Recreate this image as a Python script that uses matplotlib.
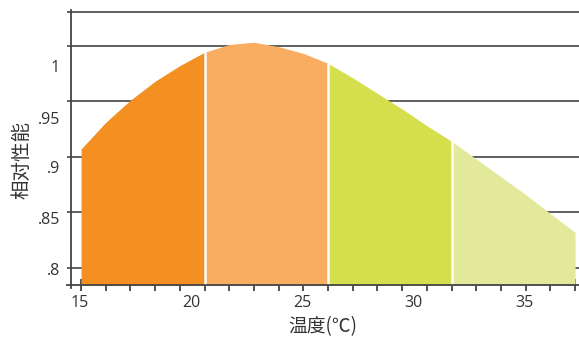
import matplotlib.pyplot as plt
import numpy as np

plt.rcParams['font.family'] = ['Open Sans', 'Noto Sans CJK SC', 'DejaVu Sans']

# curve (x in tick units, y in grid-line units)
temps = np.array([15, 16, 17, 18, 19, 20, 21, 22, 23, 24, 25,
                  26, 27, 28, 29, 30, 31, 32, 33, 34, 35])
perf = np.array([0.907, 0.931, 0.951, 0.968, 0.982, 0.994, 1.001, 1.003, 0.999, 0.993, 0.984,
                 0.971, 0.957, 0.943, 0.928, 0.914, 0.898, 0.882, 0.866, 0.849, 0.832])

bands = [15, 20, 25, 30, 35]
band_colors = ['#F39021', '#F8AD60', '#D5DF4D', '#E3E99B']

grid_vals = [0.8, 0.85, 0.9, 0.95, 1.0, 1.03]
# label positions as drawn in the source (they sit off the grid lines)
ytick_pos = [0.799, 0.845, 0.891, 0.935, 0.982]
ytick_labels = ['.8', '.85', '.9', '.95', '1']
xtick_pos = [14.96, 19.45, 23.95, 28.44, 32.94]
xtick_labels = ['15', '20', '25', '30', '35']

base = 0.7847

fig = plt.figure(figsize=(5.79, 3.37), dpi=100)
ax = fig.add_axes([0.1157, 0.1454, 0.8843, 0.8249])

for i in range(len(band_colors)):
    lo, hi = bands[i], bands[i + 1]
    m = (temps >= lo) & (temps <= hi)
    ax.fill_between(temps[m], perf[m], base, color=band_colors[i], lw=0, zorder=2)

inner = np.array(bands[1:-1])
ax.vlines(inner, base, np.interp(inner, temps, perf), color='white', lw=1.8, zorder=3)

ax.set_xlim(14.43, 35.16)
ax.set_ylim(0.782, 1.032)

for s in ['top', 'right']:
    ax.spines[s].set_visible(False)
ax.spines['left'].set_position(('data', 14.6))
ax.spines['bottom'].set_position(('data', base))
for s in ['left', 'bottom']:
    ax.spines[s].set_color('#444444')
    ax.spines[s].set_linewidth(1.3)
    ax.spines[s].set_zorder(4)

ax.set_yticks(grid_vals, minor=True)
ax.yaxis.grid(True, which='minor', color='#444444', lw=1.2, zorder=1)
ax.tick_params(axis='y', which='minor', length=0)
ax.set_yticks(ytick_pos, ytick_labels)
ax.tick_params(axis='y', which='major', length=0, pad=8, labelsize=11.5, labelcolor='#333333')

ax.set_xticks(range(15, 36), minor=True)
ax.tick_params(axis='x', which='minor', length=8, direction='inout', width=1.2, color='#333333')
ax.set_xticks(xtick_pos, xtick_labels)
ax.tick_params(axis='x', which='major', length=0, pad=7, labelsize=11.5, labelcolor='#333333')

ax.set_ylabel('相对性能', fontsize=14, color='#333333', family=['Noto Sans CJK SC', 'DejaVu Sans'])
ax.yaxis.set_label_coords(-0.068, 0.46)
ax.set_xlabel('温度(℃)', fontsize=13.5, color='#333333', labelpad=4, family=['Noto Sans CJK SC', 'DejaVu Sans'])

fig.savefig('out.png', dpi=100)
